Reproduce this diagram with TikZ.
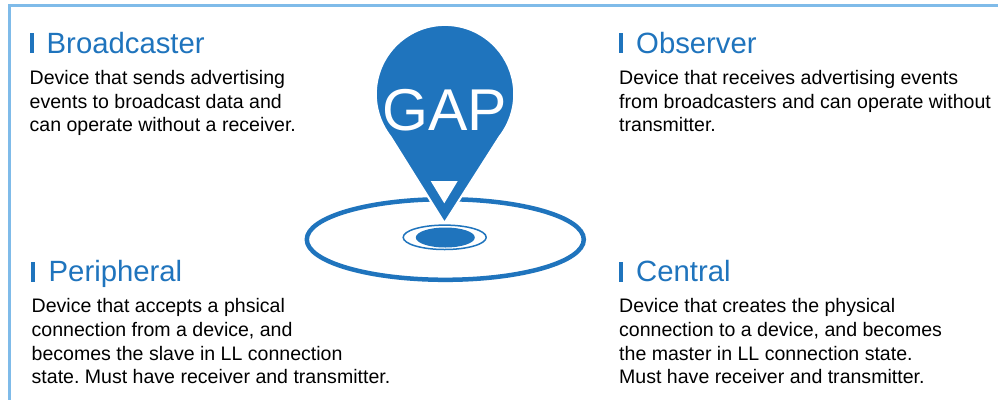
\documentclass[tikz,border=0pt]{standalone}
\usepackage{fontspec}
\setmainfont{Liberation Sans}
\frenchspacing
\definecolor{gapblue}{HTML}{1F74BD}
\definecolor{framebl}{HTML}{7FBBE9}
\tikzset{
  x=1pt,y=-1pt,
  headtxt/.style={anchor=base west,inner sep=0pt,text=gapblue,font=\fontsize{29.3}{29}\selectfont},
  bodytxt/.style={anchor=north west,inner sep=0pt,align=left,text=black,font=\fontsize{19.55}{23.7}\selectfont},
  headbar/.style={fill=gapblue,draw=none},
}
\begin{document}
\begin{tikzpicture}
\useasboundingbox (0,0) rectangle (998,400);
\fill[white] (0,0) rectangle (998,400);
% frame
\draw[framebl,line width=2.5pt] (998,5.7) -- (9.5,5.7) -- (9.5,400);
% outer ring
\draw[gapblue,line width=4.5pt] (445.3,239.5) ellipse [x radius=138.5,y radius=40.3];
% pin
\fill[gapblue,draw=white,line width=2pt,line join=miter] (444.5,223)
  -- (390.5,136.7) arc [start angle=142,end angle=398,x radius=69.2,y radius=69.2] -- cycle;
\fill[white] (430.7,181) -- (457.7,181) -- (444.3,203.3) -- cycle;
% target
\draw[gapblue,line width=1.5pt] (444.7,237.3) ellipse [x radius=41.5,y radius=12.2];
\fill[gapblue] (445.3,237.5) ellipse [x radius=29.5,y radius=10];
\node[inner sep=0pt,anchor=base,text=white,font=\fontsize{59}{59}\selectfont] (gap) at (444.5,130) {GAP};
% headings
\fill[headbar] (30,33) rectangle (34,53);
\node[headtxt] (h1) at (46.5,53) {Broadcaster};
\fill[headbar] (619,33) rectangle (623,53);
\node[headtxt] (h2) at (636,53) {Observer};
\fill[headbar] (31,262) rectangle (35,282);
\node[headtxt] (h3) at (48.5,281) {Peripheral};
\fill[headbar] (619,262) rectangle (623,282);
\node[headtxt] (h4) at (636,281) {Central};
% bodies
\node[bodytxt] (b1) at (29.5,70) {Device that sends advertising\\events to broadcast data and\\can operate without a receiver.};
\node[bodytxt] (b2) at (619,70) {Device that receives advertising events\\from broadcasters and can operate without\\transmitter.};
\node[bodytxt] (b3) at (31.5,298.5) {Device that accepts a phsical\\connection from a device, and\\becomes the slave in LL connection\\state. Must have receiver and transmitter.};
\node[bodytxt] (b4) at (619,298.5) {Device that creates the physical\\connection to a device, and becomes\\the master in LL connection state.\\Must have receiver and transmitter.};
\end{tikzpicture}
\end{document}
